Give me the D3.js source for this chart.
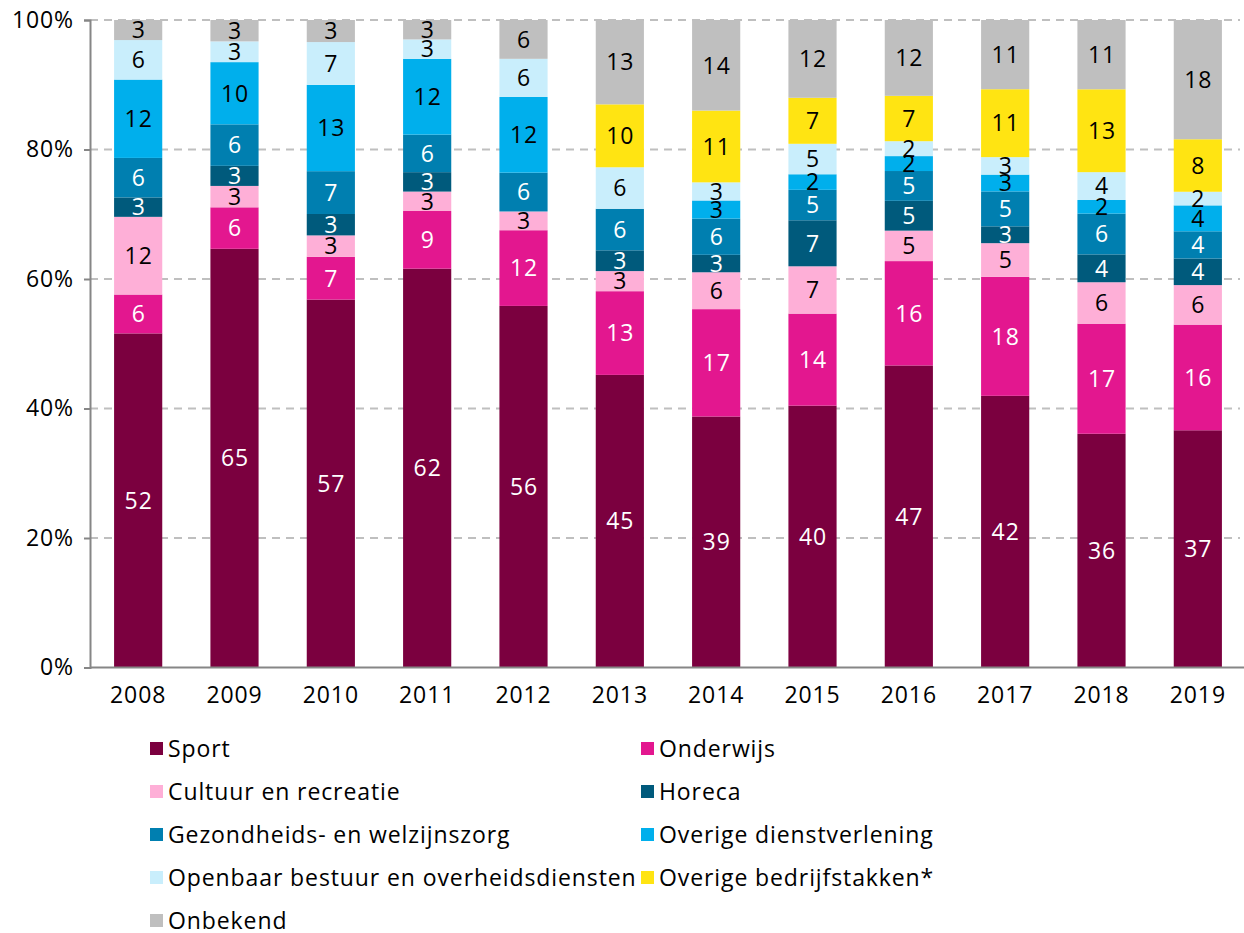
<!DOCTYPE html>
<html>
<head>
<meta charset="utf-8">
<script src="https://cdn.jsdelivr.net/npm/d3@7"></script>
<style>
  body { margin: 0; background: #fff; }
  text { font-family: "Open Sans", "Noto Sans", sans-serif; letter-spacing: 0.9px; }
</style>
</head>
<body>
<script>
// years on the x axis
const years = ["2008", "2009", "2010", "2011", "2012", "2013", "2014", "2015", "2016", "2017", "2018", "2019"];

// shares per sector (%)
const sport      = [51.6, 64.6, 56.7, 61.6, 55.9, 45.1, 38.8, 40.4, 46.6, 42.0, 36.1, 36.6];
const onderwijs  = [6.0, 6.4, 6.6, 8.9, 11.7, 12.9, 16.6, 14.2, 16.1, 18.4, 17.0, 16.3];
const cultuur    = [12.0, 3.3, 3.3, 3.0, 2.9, 3.1, 5.7, 7.3, 4.7, 5.2, 6.4, 6.1];
const horeca     = [3.0, 3.1, 3.3, 3.0, 0, 3.2, 2.7, 7.1, 4.6, 2.6, 4.3, 4.1];
const gezondheid = [6.1, 6.4, 6.6, 5.8, 6.0, 6.4, 5.6, 4.7, 4.6, 5.4, 6.3, 4.2];
const dienst     = [12.1, 9.6, 13.3, 11.7, 11.7, 0, 2.8, 2.4, 2.3, 2.6, 2.1, 4.0];
const openbaar   = [6.1, 3.2, 6.6, 3.0, 5.9, 6.4, 2.8, 4.7, 2.3, 2.7, 4.3, 2.1];
const bedrijf    = [0, 0, 0, 0, 0, 9.7, 11.1, 7.1, 7.0, 10.5, 12.8, 8.1];
const onbekend   = [3.1, 3.3, 3.4, 3.0, 6.0, 13.0, 14.0, 12.0, 11.7, 10.7, 10.7, 18.4];

const seriesNames = ["Sport", "Onderwijs", "Cultuur en recreatie", "Horeca",
  "Gezondheids- en welzijnszorg", "Overige dienstverlening",
  "Openbaar bestuur en overheidsdiensten", "Overige bedrijfstakken*", "Onbekend"];
const seriesValues = [sport, onderwijs, cultuur, horeca, gezondheid, dienst, openbaar, bedrijf, onbekend];
const colors = ["#7b003f", "#e3178f", "#feafd7", "#005a7c", "#007fb0", "#00afec", "#c9eefc", "#ffe412", "#bfbfbf"];
const labelColors = ["#fff", "#fff", "#000", "#fff", "#fff", "#000", "#000", "#000", "#000"];
const yTicks = [0, 0.2, 0.4, 0.6, 0.8, 1];

const w = 1244;
const h = 933;

// build rows for d3.stack
const rows = years.map((y, i) => {
  const r = { year: y };
  seriesNames.forEach((n, k) => { r[n] = seriesValues[k][i]; });
  return r;
});

const stacked = d3.stack()
  .keys(seriesNames)
  .offset(d3.stackOffsetExpand)(rows);

const x = d3.scaleBand().domain(years).range([90, 1246]).paddingInner(0.5).paddingOuter(0.25);
const y = d3.scaleLinear().domain([0, 1]).range([667.5, 20]);

const svg = d3.select("body").append("svg").attr("width", w).attr("height", h);

// gridlines
svg.append("g")
  .selectAll("line")
  .data(yTicks.slice(1))
  .enter()
  .append("line")
  .attr("x1", 90)
  .attr("x2", 1240)
  .attr("y1", (d) => y(d))
  .attr("y2", (d) => y(d))
  .attr("stroke", "#bfbfbf")
  .attr("stroke-width", 2)
  .attr("stroke-dasharray", "8,6");

// bars
const layer = svg.append("g")
  .selectAll("g")
  .data(stacked)
  .enter()
  .append("g")
  .attr("fill", (d, k) => colors[k]);

layer.selectAll("rect")
  .data((d) => d.filter((s) => s[1] - s[0] > 0))
  .enter()
  .append("rect")
  .attr("x", (d) => x(d.data.year))
  .attr("y", (d) => y(d[1]))
  .attr("width", x.bandwidth())
  .attr("height", (d) => y(d[0]) - y(d[1]));

// value labels
stacked.forEach((s, k) => {
  svg.append("g")
    .selectAll("text")
    .data(s.filter((d) => d[1] - d[0] > 0))
    .enter()
    .append("text")
    .attr("x", (d) => x(d.data.year) + x.bandwidth() / 2 + 0.5)
    .attr("y", (d) => y((d[0] + d[1]) / 2))
    .attr("dy", "0.36em")
    .attr("text-anchor", "middle")
    .attr("font-size", 23)
    .attr("fill", labelColors[k])
    .text((d) => Math.round(d.data[s.key]));
});

// y axis
const yAxis = svg.append("g")
  .attr("transform", "translate(90,0)")
  .call(d3.axisLeft(y).tickValues(yTicks).tickFormat(d3.format(".0%")).tickSizeOuter(0).tickSize(6).tickPadding(10));
yAxis.select(".domain").attr("stroke", "#868686").attr("stroke-width", 2);
yAxis.selectAll(".tick line").attr("stroke", "#868686").attr("stroke-width", 2);
yAxis.selectAll(".tick text").attr("font-size", 23).attr("fill", "#000").attr("font-family", null);

// x axis
const xAxis = svg.append("g")
  .attr("transform", "translate(0,667.5)")
  .call(d3.axisBottom(x).tickSize(0).tickPadding(19));
xAxis.select(".domain").attr("d", "M90,0H1244").attr("stroke", "#868686").attr("stroke-width", 2);
xAxis.selectAll(".tick text").attr("font-size", 23).attr("fill", "#000").attr("font-family", null);

// legend, two columns
const legend = svg.append("g")
  .selectAll("g")
  .data(seriesNames)
  .enter()
  .append("g")
  .attr("transform", (d, i) => "translate(" + (i % 2 === 0 ? 150 : 641) + "," + (748.5 + Math.floor(i / 2) * 43) + ")");

legend.append("rect")
  .attr("x", 0)
  .attr("y", -6.5)
  .attr("width", 13)
  .attr("height", 13)
  .attr("fill", (d, i) => colors[i]);

legend.append("text")
  .attr("x", 18)
  .attr("y", 0)
  .attr("dy", "0.35em")
  .attr("font-size", 23)
  .attr("fill", "#000")
  .text((d) => d);
</script>
</body>
</html>
